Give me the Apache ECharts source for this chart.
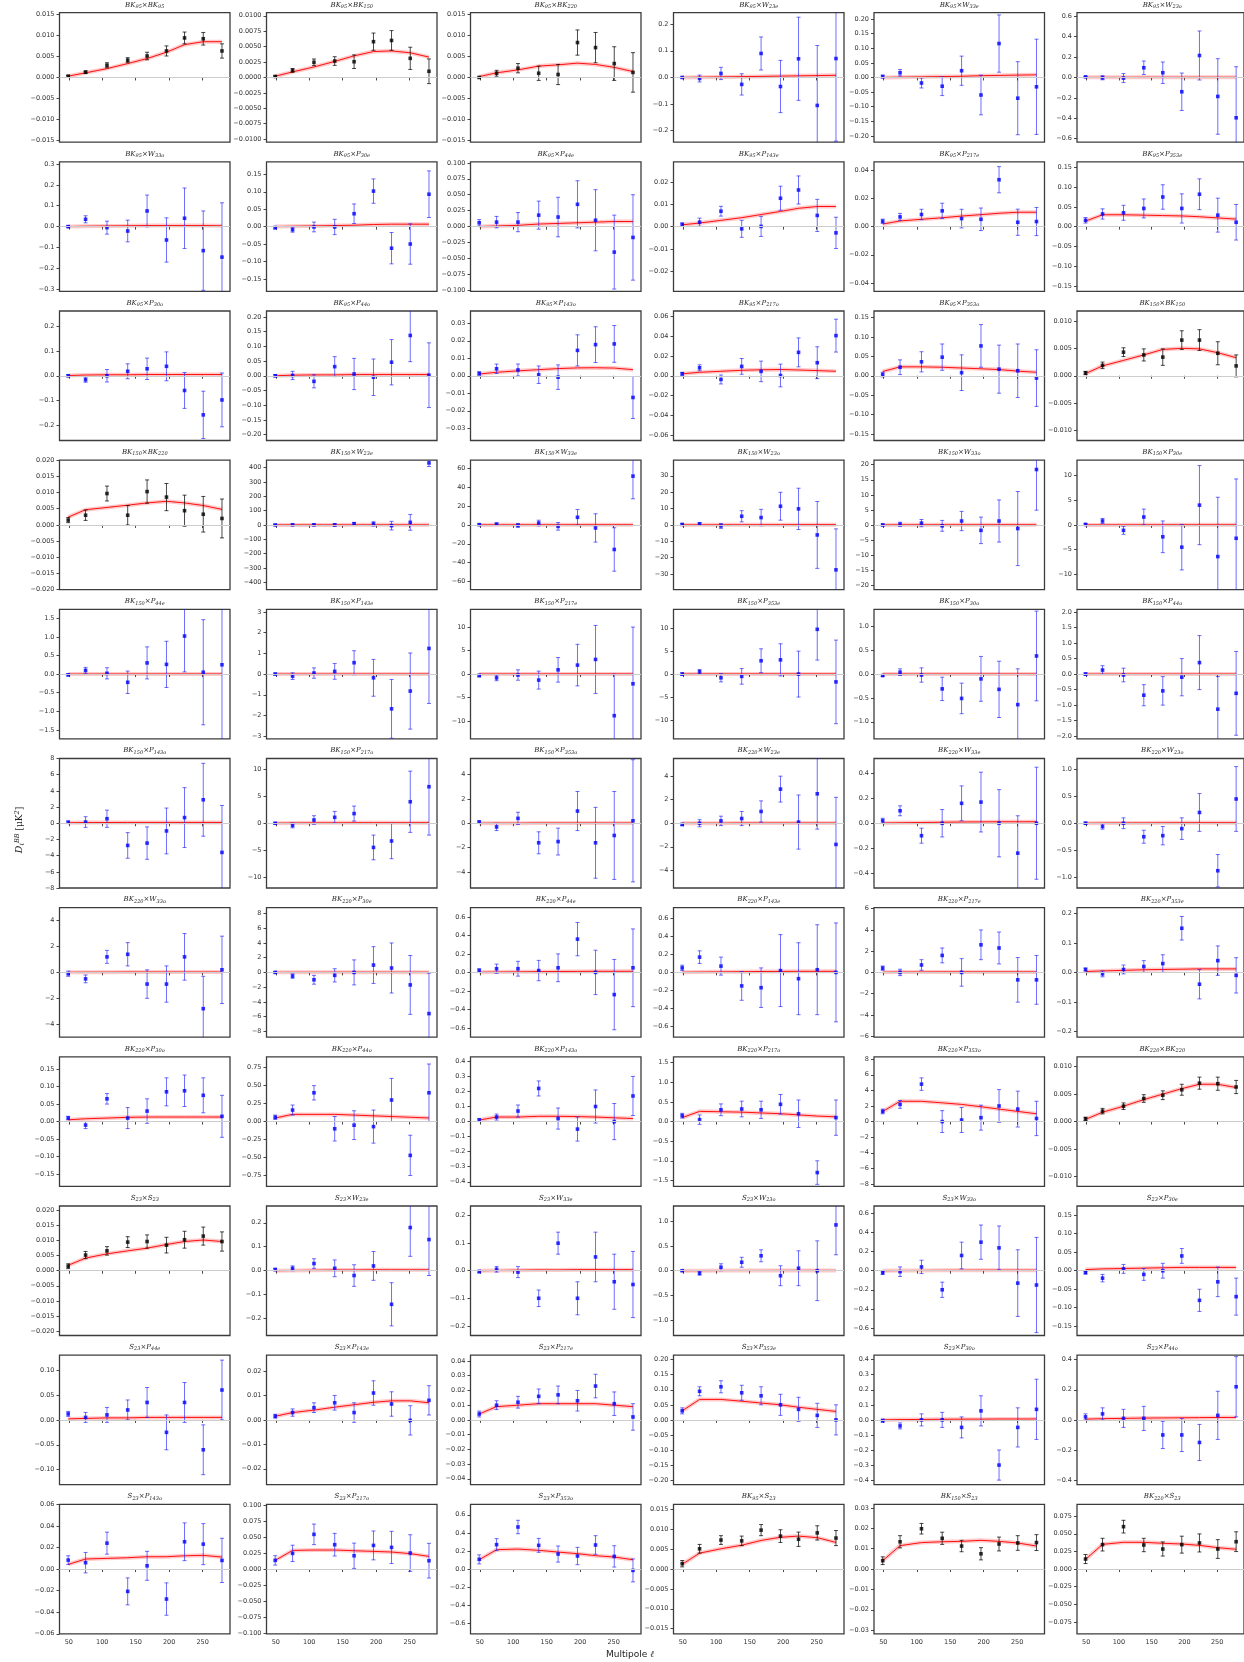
<!DOCTYPE html>
<html>
<head>
<meta charset="utf-8">
<script src="https://cdn.jsdelivr.net/npm/echarts@6/dist/echarts.min.js"></script>
<style>
  html, body { margin: 0; padding: 0; background: #ffffff; }
  #chart { width: 1244px; height: 1662px; }
</style>
</head>
<body>
<div id="chart"></div>
<script>
// Multipole bin centres and axis ticks shared by every panel
const ells = [49, 75, 107, 138, 167, 196, 223, 251, 279];
const ellTicks = [50, 100, 150, 200, 250];
const ellRange = [36, 291];

// Map names used in the panel titles
const bkMaps = ['BK_{95}', 'BK_{150}', 'BK_{220}', 'S_{23}'];
const extMaps = ['W_{23e}', 'W_{33e}', 'W_{23o}', 'W_{33o}', 'P_{30e}', 'P_{44e}', 'P_{143e}',
                 'P_{217e}', 'P_{353e}', 'P_{30o}', 'P_{44o}', 'P_{143o}', 'P_{217o}', 'P_{353o}'];

// Panels drawn in black (BK-type x BK-type spectra)
const bkAutoPanels = [0, 1, 2, 17, 18, 47, 48, 63, 64, 65];

// Symmetric y half-range and tick step of each panel (row-major)
const yHalfRange = [
  0.0154, 0.0105, 0.0154, 0.243, 0.2216, 0.634,
  0.31, 0.186, 0.1016, 0.029, 0.046, 0.164,
  0.26, 0.22, 0.037, 0.065, 0.167, 0.0118,
  0.02, 451, 68.6, 39.5, 21.5, 13.1,
  1.737, 3.13, 13.7, 14.1, 1.357, 2.086,
  8.0, 12.05, 5.3, 5.5, 0.52, 1.2,
  5.0, 8.8, 0.7, 0.72, 6.1, 0.22,
  0.185, 0.9, 0.43, 1.65, 8.3, 0.0118,
  0.0215, 0.27, 0.235, 1.3, 0.68, 0.175,
  0.13, 0.0265, 0.044, 0.215, 0.43, 0.43,
  0.06, 0.1008, 0.716, 0.0163, 0.0318, 0.0918
];
const yTickStep = [
  0.005, 0.0025, 0.005, 0.1, 0.05, 0.2,
  0.1, 0.05, 0.025, 0.01, 0.02, 0.05,
  0.1, 0.05, 0.01, 0.02, 0.05, 0.005,
  0.005, 100, 20, 10, 5, 5,
  0.5, 1, 5, 5, 0.5, 0.5,
  2, 5, 2, 2, 0.2, 0.5,
  2, 2, 0.2, 0.2, 2, 0.1,
  0.05, 0.25, 0.1, 0.5, 2, 0.005,
  0.005, 0.1, 0.1, 0.5, 0.2, 0.05,
  0.05, 0.01, 0.01, 0.05, 0.1, 0.2,
  0.02, 0.025, 0.2, 0.005, 0.01, 0.025
];

// Measured band powers D_l^BB [uK^2], one row of nine bins per panel
const bandpowers = [
  [0.0003, 0.00126, 0.0029, 0.0041, 0.0051, 0.0063, 0.0094, 0.0092, 0.0063],
  [0.00016, 0.00114, 0.00245, 0.00266, 0.00255, 0.0058, 0.006, 0.0031, 0.001],
  [0.0000, 0.001, 0.0022, 0.001, 0.0007, 0.0083, 0.0071, 0.0033, 0.0012],
  [0.0, -0.004, 0.015, -0.026, 0.09, -0.034, 0.07, -0.105, 0.071],
  [0.003, 0.016, -0.019, -0.03, 0.023, -0.06, 0.116, -0.071, -0.032],
  [0.006, -0.003, -0.006, 0.095, 0.046, -0.14, 0.215, -0.186, -0.395],
  [0.0, 0.035, -0.005, -0.021, 0.075, -0.064, 0.04, -0.115, -0.146],
  [-0.003, -0.009, -0.001, -0.001, 0.037, 0.102, -0.062, -0.05, 0.093],
  [0.006, 0.007, 0.007, 0.018, 0.015, 0.035, 0.01, -0.04, -0.017],
  [0.0009, 0.002, 0.0069, -0.001, 0.0001, 0.0127, 0.0164, 0.005, -0.0028],
  [0.0038, 0.0069, 0.0086, 0.0112, 0.0057, 0.0052, 0.0333, 0.0031, 0.0036],
  [0.016, 0.032, 0.035, 0.046, 0.075, 0.046, 0.082, 0.029, 0.011],
  [0.0, -0.016, 0.0, 0.018, 0.028, 0.038, -0.059, -0.157, -0.097],
  [0.0, 0.001, -0.019, 0.031, 0.006, -0.005, 0.046, 0.137, 0.002],
  [0.0013, 0.004, 0.0033, 0.0006, -0.0008, 0.0145, 0.0178, 0.0182, -0.0124],
  [0.002, 0.008, -0.0037, 0.0094, 0.0044, 0.0003, 0.0235, 0.0131, 0.0403],
  [0.003, 0.022, 0.036, 0.048, 0.008, 0.077, 0.017, 0.013, -0.006],
  [0.0005, 0.0019, 0.0043, 0.0038, 0.0034, 0.0065, 0.0065, 0.0041, 0.0018],
  [0.0015, 0.003, 0.0097, 0.003, 0.0103, 0.0086, 0.0044, 0.0033, 0.002],
  [0, 1, 1, 0, 8, 7, -5, 18, 432],
  [0.3, 0.8, -0.5, 2, -1.5, 8.1, -3.2, -26, 51.7],
  [0.3, 0.6, -0.6, 5.3, 4.5, 11.4, 9.8, -6.1, -27.4],
  [0.0, 0.2, 0.6, -0.3, 1.3, -1.8, 1.3, -1.2, 18.4],
  [0.1, 0.8, -1.1, 1.6, -2.4, -4.5, 4.0, -6.4, -2.7],
  [-0.02, 0.1, 0.02, -0.22, 0.3, 0.26, 1.02, 0.05, 0.25],
  [0.0, -0.1, 0.05, 0.13, 0.55, -0.18, -1.68, -0.82, 1.24],
  [-0.3, -0.8, -0.2, -1.27, 0.9, 1.9, 3.1, -8.8, -2.05],
  [0.0, 0.5, -0.8, -0.5, 2.9, 3.1, 0.0, 9.75, -1.7],
  [-0.03, 0.04, -0.02, -0.31, -0.51, -0.1, -0.32, -0.64, 0.38],
  [0.0, 0.13, -0.03, -0.68, -0.54, -0.1, 0.37, -1.13, -0.62],
  [0.12, 0.15, 0.56, -2.74, -2.45, -0.95, 0.7, 2.9, -3.6],
  [0.0, -0.4, 0.6, 1.1, 1.8, -4.5, -3.3, 4.0, 6.8],
  [0.1, -0.3, 0.4, -1.6, -1.5, 1.0, -1.6, -1.0, 0.2],
  [-0.1, 0.0, 0.2, 0.4, 1.0, 2.9, 0.1, 2.5, -1.8],
  [0.02, 0.1, -0.1, 0.0, 0.16, 0.17, 0.0, -0.24, 0.0],
  [0.0, -0.06, 0.0, -0.25, -0.23, -0.1, 0.2, -0.88, 0.45],
  [-0.1, -0.5, 1.2, 1.4, -0.9, -0.9, 1.2, -2.8, 0.2],
  [0.0, -0.5, -1.0, -0.4, 0.0, 1.0, 0.6, -1.7, -5.6],
  [0.02, 0.04, 0.04, 0.02, 0.05, 0.36, 0.0, -0.24, 0.05],
  [0.05, 0.17, 0.07, -0.15, -0.17, 0.02, -0.07, 0.03, 0.0],
  [0.4, 0.0, 0.7, 1.6, 0.0, 2.6, 2.3, -0.7, -0.7],
  [0.01, -0.005, 0.01, 0.02, 0.03, 0.15, -0.04, 0.04, -0.01],
  [0.01, -0.01, 0.065, 0.01, 0.03, 0.085, 0.088, 0.075, 0.015],
  [0.06, 0.16, 0.4, -0.1, -0.05, -0.07, 0.3, -0.47, 0.4],
  [0.01, 0.03, 0.07, 0.22, 0.02, -0.05, 0.1, 0.0, 0.17],
  [0.15, 0.05, 0.3, 0.32, 0.3, 0.44, 0.2, -1.3, 0.1],
  [1.3, 2.2, 4.8, 0.0, 0.2, 0.5, 2.0, 1.6, 0.4],
  [0.0005, 0.0019, 0.0028, 0.0042, 0.0048, 0.0058, 0.007, 0.0069, 0.0063],
  [0.0015, 0.0052, 0.0066, 0.0095, 0.0097, 0.0085, 0.0103, 0.0115, 0.0097],
  [0.005, 0.01, 0.03, 0.01, -0.02, 0.02, -0.14, 0.18, 0.13],
  [-0.003, 0.005, -0.005, -0.1, 0.1, -0.1, 0.05, -0.04, -0.05],
  [0.0, -0.05, 0.07, 0.17, 0.3, -0.1, 0.05, 0.0, 0.92],
  [-0.02, -0.01, 0.04, -0.2, 0.16, 0.3, 0.24, -0.13, -0.15],
  [-0.005, -0.02, 0.005, -0.01, 0.0, 0.04, -0.08, -0.03, -0.07],
  [0.012, 0.005, 0.01, 0.02, 0.035, -0.025, 0.035, -0.06, 0.06],
  [0.0015, 0.003, 0.005, 0.007, 0.003, 0.011, 0.0065, -0.0002, 0.008],
  [0.004, 0.01, 0.012, 0.016, 0.017, 0.013, 0.023, 0.011, 0.002],
  [0.03, 0.095, 0.11, 0.09, 0.08, 0.05, 0.035, 0.015, 0.0],
  [-0.005, -0.04, 0.0, 0.0, -0.05, 0.06, -0.3, -0.05, 0.07],
  [0.02, 0.04, 0.01, 0.01, -0.1, -0.1, -0.15, 0.03, 0.22],
  [0.0083, 0.0059, 0.024, -0.0207, 0.003, -0.0278, 0.0253, 0.0231, 0.008],
  [0.0135, 0.0244, 0.054, 0.0379, 0.0207, 0.0368, 0.0337, 0.0249, 0.013],
  [0.107, 0.27, 0.465, 0.262, 0.166, 0.144, 0.266, 0.14, -0.015],
  [0.00135, 0.0051, 0.0073, 0.0071, 0.0098, 0.0083, 0.0075, 0.0091, 0.0078],
  [0.0041, 0.0134, 0.0198, 0.0151, 0.0113, 0.0075, 0.0123, 0.0128, 0.013],
  [0.0142, 0.0346, 0.0601, 0.0341, 0.0284, 0.0346, 0.037, 0.0284, 0.0388]
];

// 1-sigma uncertainties of the band powers
const bandErrors = [
  [0.0002, 0.0003, 0.0006, 0.0006, 0.0009, 0.0012, 0.0014, 0.0015, 0.0017],
  [0.0001, 0.0003, 0.00054, 0.0007, 0.0011, 0.0014, 0.0016, 0.0018, 0.002],
  [0.0001, 0.0007, 0.0011, 0.0017, 0.0024, 0.003, 0.0036, 0.004, 0.0047],
  [0.002, 0.013, 0.023, 0.04, 0.062, 0.098, 0.156, 0.225, 0.31],
  [0.005, 0.011, 0.017, 0.032, 0.05, 0.068, 0.098, 0.125, 0.163],
  [0.003, 0.02, 0.044, 0.066, 0.105, 0.183, 0.24, 0.37, 0.5],
  [0.005, 0.017, 0.031, 0.052, 0.076, 0.106, 0.145, 0.19, 0.26],
  [0.004, 0.007, 0.014, 0.022, 0.028, 0.035, 0.045, 0.058, 0.067],
  [0.005, 0.009, 0.015, 0.022, 0.031, 0.037, 0.048, 0.058, 0.067],
  [0.0008, 0.0018, 0.0022, 0.0038, 0.0045, 0.0054, 0.0063, 0.0072, 0.007],
  [0.0015, 0.0025, 0.0037, 0.0054, 0.0066, 0.008, 0.0093, 0.0093, 0.01],
  [0.007, 0.013, 0.019, 0.024, 0.031, 0.037, 0.039, 0.043, 0.045],
  [0.004, 0.01, 0.025, 0.03, 0.043, 0.058, 0.072, 0.095, 0.108],
  [0.004, 0.014, 0.022, 0.034, 0.053, 0.062, 0.077, 0.089, 0.11],
  [0.001, 0.0027, 0.0034, 0.005, 0.007, 0.0089, 0.0102, 0.0105, 0.012],
  [0.0015, 0.003, 0.0045, 0.0079, 0.0103, 0.0114, 0.0145, 0.016, 0.0165],
  [0.006, 0.019, 0.026, 0.034, 0.046, 0.055, 0.062, 0.069, 0.073],
  [0.0003, 0.0006, 0.0008, 0.0011, 0.0015, 0.0017, 0.0019, 0.0021, 0.002],
  [0.0008, 0.0016, 0.0023, 0.003, 0.0036, 0.0042, 0.0048, 0.0055, 0.006],
  [2, 5, 6, 8, 10, 15, 30, 55, 25],
  [0.8, 1.2, 2, 3, 4, 8.3, 15, 23, 24],
  [0.5, 0.8, 1.5, 3.4, 5, 8.5, 12.6, 20.4, 25],
  [0.3, 0.7, 1.2, 1.8, 3.2, 4.4, 7, 12.3, 13.5],
  [0.2, 0.5, 0.8, 1.6, 3.2, 4.6, 8, 12, 12],
  [0.03, 0.08, 0.15, 0.3, 0.43, 0.62, 0.96, 1.41, 2.0],
  [0.05, 0.16, 0.25, 0.38, 0.58, 0.89, 1.42, 1.84, 2.66],
  [0.3, 0.6, 1.1, 1.9, 2.6, 4.4, 7.2, 8.8, 12],
  [0.3, 0.5, 0.9, 1.7, 2.6, 3.5, 5, 6.7, 9.1],
  [0.02, 0.07, 0.15, 0.245, 0.32, 0.47, 0.59, 0.75, 0.94],
  [0.04, 0.14, 0.22, 0.34, 0.46, 0.6, 0.87, 1.05, 1.35],
  [0.15, 0.66, 1.06, 1.58, 2.0, 2.83, 3.7, 4.5, 5.8],
  [0.15, 0.45, 0.8, 1.1, 1.4, 2.3, 3.3, 5.7, 9.0],
  [0.1, 0.3, 0.5, 0.9, 1.1, 1.6, 2.9, 3.6, 5.0],
  [0.1, 0.3, 0.4, 0.6, 0.9, 1.1, 2.3, 3.0, 4.0],
  [0.02, 0.04, 0.06, 0.11, 0.14, 0.24, 0.27, 0.3, 0.45],
  [0.02, 0.05, 0.1, 0.12, 0.17, 0.2, 0.35, 0.3, 0.6],
  [0.2, 0.3, 0.5, 0.9, 1.1, 1.4, 1.8, 2.5, 2.6],
  [0.1, 0.3, 0.6, 0.9, 1.7, 2.5, 3.4, 4.0, 5.5],
  [0.02, 0.05, 0.08, 0.11, 0.15, 0.18, 0.24, 0.38, 0.42],
  [0.03, 0.07, 0.1, 0.16, 0.22, 0.4, 0.4, 0.5, 0.55],
  [0.2, 0.3, 0.5, 0.7, 1.3, 1.4, 1.5, 2.1, 2.3],
  [0.005, 0.01, 0.015, 0.02, 0.03, 0.04, 0.05, 0.05, 0.06],
  [0.005, 0.01, 0.015, 0.03, 0.035, 0.04, 0.045, 0.05, 0.06],
  [0.03, 0.07, 0.1, 0.17, 0.2, 0.23, 0.3, 0.28, 0.4],
  [0.01, 0.02, 0.04, 0.05, 0.07, 0.08, 0.11, 0.12, 0.13],
  [0.06, 0.12, 0.15, 0.2, 0.22, 0.25, 0.35, 0.3, 0.45],
  [0.3, 0.5, 0.8, 1.4, 1.6, 1.6, 2.1, 2.3, 2.2],
  [0.0003, 0.0005, 0.0006, 0.0007, 0.0008, 0.001, 0.0011, 0.0012, 0.0012],
  [0.0008, 0.0012, 0.0014, 0.0018, 0.0022, 0.0026, 0.0028, 0.003, 0.0032],
  [0.005, 0.01, 0.02, 0.035, 0.045, 0.06, 0.09, 0.12, 0.15],
  [0.005, 0.01, 0.02, 0.03, 0.04, 0.06, 0.09, 0.1, 0.12],
  [0.01, 0.04, 0.07, 0.1, 0.12, 0.2, 0.35, 0.6, 0.6],
  [0.02, 0.05, 0.07, 0.08, 0.14, 0.18, 0.23, 0.35, 0.5],
  [0.004, 0.01, 0.012, 0.016, 0.02, 0.02, 0.03, 0.04, 0.05],
  [0.005, 0.01, 0.015, 0.02, 0.03, 0.035, 0.04, 0.05, 0.06],
  [0.0008, 0.0015, 0.002, 0.003, 0.004, 0.005, 0.005, 0.006, 0.006],
  [0.002, 0.003, 0.004, 0.005, 0.006, 0.007, 0.008, 0.008, 0.009],
  [0.01, 0.015, 0.02, 0.025, 0.03, 0.035, 0.04, 0.04, 0.05],
  [0.01, 0.02, 0.04, 0.05, 0.07, 0.1, 0.1, 0.13, 0.2],
  [0.02, 0.04, 0.06, 0.08, 0.09, 0.11, 0.12, 0.16, 0.2],
  [0.004, 0.0095, 0.0102, 0.0125, 0.0134, 0.015, 0.0175, 0.019, 0.0205],
  [0.0073, 0.0127, 0.016, 0.0176, 0.0197, 0.0225, 0.025, 0.0285, 0.027],
  [0.05, 0.066, 0.074, 0.077, 0.089, 0.096, 0.103, 0.118, 0.127],
  [0.0008, 0.0011, 0.0011, 0.0012, 0.0014, 0.0016, 0.0018, 0.0018, 0.0019],
  [0.0019, 0.003, 0.0026, 0.003, 0.0028, 0.003, 0.0034, 0.0036, 0.0039],
  [0.0064, 0.009, 0.009, 0.0095, 0.01, 0.012, 0.0128, 0.0133, 0.014]
];

// Best-fit model expectation in each bin
const modelCurve = [
  [0.0003, 0.0011, 0.0021, 0.0033, 0.0045, 0.006, 0.0078, 0.0085, 0.0085],
  [0.0002, 0.0009, 0.0017, 0.0026, 0.0035, 0.0042, 0.0043, 0.004, 0.0033],
  [0.0002, 0.0011, 0.0018, 0.0027, 0.003, 0.0034, 0.0031, 0.0024, 0.0014],
  [0.0, 0.001, 0.002, 0.003, 0.004, 0.005, 0.006, 0.007, 0.008],
  [0.0, 0.001, 0.002, 0.003, 0.004, 0.006, 0.007, 0.008, 0.009],
  [0.001, 0.001, 0.001, 0.002, 0.002, 0.002, 0.002, 0.002, 0.002],
  [0.0, 0.002, 0.003, 0.004, 0.005, 0.005, 0.005, 0.005, 0.004],
  [0.0, 0.001, 0.002, 0.003, 0.004, 0.006, 0.007, 0.007, 0.007],
  [0.0, 0.001, 0.002, 0.004, 0.005, 0.006, 0.007, 0.008, 0.008],
  [0.0008, 0.0016, 0.0028, 0.004, 0.0054, 0.0068, 0.0082, 0.009, 0.009],
  [0.0018, 0.004, 0.0052, 0.0063, 0.0075, 0.0085, 0.0095, 0.0102, 0.0102],
  [0.014, 0.03, 0.03, 0.029, 0.028, 0.027, 0.025, 0.022, 0.019],
  [0.001, 0.003, 0.004, 0.004, 0.005, 0.005, 0.005, 0.005, 0.005],
  [0.0, 0.002, 0.003, 0.003, 0.004, 0.004, 0.004, 0.004, 0.004],
  [0.001, 0.002, 0.0028, 0.0035, 0.0041, 0.0045, 0.0046, 0.0044, 0.0035],
  [0.002, 0.0035, 0.0045, 0.0055, 0.006, 0.0063, 0.0058, 0.0052, 0.0045],
  [0.011, 0.023, 0.023, 0.022, 0.02, 0.018, 0.016, 0.012, 0.009],
  [0.0004, 0.0018, 0.0028, 0.0038, 0.0048, 0.005, 0.0049, 0.0042, 0.0033],
  [0.0024, 0.0047, 0.0054, 0.0061, 0.0068, 0.0073, 0.0068, 0.006, 0.0048],
  [0.1, 0.2, 0.3, 0.3, 0.4, 0.4, 0.5, 0.5, 0.5],
  [0.05, 0.1, 0.1, 0.15, 0.15, 0.2, 0.2, 0.2, 0.2],
  [0.02, 0.05, 0.08, 0.1, 0.12, 0.14, 0.15, 0.16, 0.16],
  [0.01, 0.02, 0.03, 0.04, 0.05, 0.05, 0.06, 0.06, 0.06],
  [0.01, 0.01, 0.02, 0.02, 0.03, 0.03, 0.03, 0.03, 0.03],
  [0.0, 0.001, 0.002, 0.003, 0.003, 0.004, 0.004, 0.004, 0.004],
  [0.0, 0.001, 0.002, 0.003, 0.004, 0.005, 0.005, 0.006, 0.006],
  [0.01, 0.02, 0.03, 0.03, 0.04, 0.04, 0.04, 0.04, 0.04],
  [0.01, 0.02, 0.03, 0.03, 0.04, 0.04, 0.04, 0.04, 0.04],
  [0.0, 0.001, 0.001, 0.002, 0.002, 0.002, 0.002, 0.002, 0.002],
  [0.0, 0.001, 0.001, 0.002, 0.002, 0.002, 0.002, 0.002, 0.002],
  [0.06, 0.08, 0.09, 0.1, 0.1, 0.1, 0.1, 0.1, 0.1],
  [0.02, 0.05, 0.07, 0.08, 0.1, 0.1, 0.1, 0.1, 0.1],
  [0.0, 0.01, 0.01, 0.02, 0.02, 0.02, 0.02, 0.02, 0.02],
  [0.0, 0.01, 0.01, 0.02, 0.02, 0.02, 0.02, 0.02, 0.02],
  [0.002, 0.004, 0.006, 0.008, 0.01, 0.011, 0.012, 0.012, 0.012],
  [0.001, 0.003, 0.005, 0.006, 0.008, 0.009, 0.01, 0.01, 0.01],
  [0.01, 0.02, 0.02, 0.03, 0.03, 0.03, 0.03, 0.03, 0.03],
  [0.01, 0.02, 0.02, 0.03, 0.03, 0.03, 0.03, 0.03, 0.03],
  [0.002, 0.004, 0.006, 0.008, 0.01, 0.011, 0.012, 0.012, 0.012],
  [0.002, 0.004, 0.006, 0.008, 0.01, 0.011, 0.012, 0.012, 0.012],
  [0.02, 0.03, 0.04, 0.05, 0.05, 0.05, 0.05, 0.05, 0.05],
  [0.003, 0.005, 0.007, 0.009, 0.01, 0.011, 0.012, 0.012, 0.012],
  [0.005, 0.008, 0.01, 0.012, 0.013, 0.013, 0.013, 0.013, 0.013],
  [0.05, 0.1, 0.1, 0.1, 0.09, 0.08, 0.07, 0.06, 0.05],
  [0.01, 0.03, 0.03, 0.035, 0.035, 0.033, 0.03, 0.025, 0.02],
  [0.1, 0.26, 0.25, 0.24, 0.22, 0.2, 0.17, 0.14, 0.12],
  [1.3, 2.6, 2.6, 2.4, 2.2, 1.9, 1.6, 1.3, 1.0],
  [0.0004, 0.0017, 0.0028, 0.004, 0.005, 0.006, 0.0068, 0.0068, 0.0062],
  [0.0018, 0.0042, 0.0056, 0.0066, 0.0075, 0.0087, 0.0097, 0.0102, 0.0097],
  [0.0, 0.001, 0.002, 0.003, 0.003, 0.004, 0.004, 0.004, 0.004],
  [0.0, 0.001, 0.002, 0.003, 0.003, 0.004, 0.004, 0.004, 0.004],
  [0.0, 0.002, 0.004, 0.005, 0.006, 0.007, 0.007, 0.007, 0.007],
  [0.0, 0.002, 0.003, 0.004, 0.005, 0.006, 0.006, 0.006, 0.006],
  [0.003, 0.005, 0.006, 0.007, 0.008, 0.009, 0.009, 0.009, 0.009],
  [0.002, 0.003, 0.004, 0.004, 0.005, 0.005, 0.005, 0.005, 0.005],
  [0.0015, 0.003, 0.004, 0.0052, 0.0062, 0.0072, 0.0078, 0.0078, 0.007],
  [0.004, 0.009, 0.01, 0.011, 0.011, 0.011, 0.011, 0.01, 0.009],
  [0.03, 0.068, 0.068, 0.062, 0.056, 0.05, 0.042, 0.035, 0.028],
  [0.0, 0.002, 0.003, 0.004, 0.005, 0.005, 0.006, 0.006, 0.006],
  [0.005, 0.008, 0.01, 0.012, 0.013, 0.014, 0.015, 0.016, 0.016],
  [0.0043, 0.0093, 0.0099, 0.0105, 0.0114, 0.0114, 0.0123, 0.0127, 0.0111],
  [0.0135, 0.029, 0.0296, 0.0296, 0.0285, 0.0275, 0.0265, 0.024, 0.0197],
  [0.103, 0.214, 0.221, 0.207, 0.188, 0.17, 0.148, 0.133, 0.103],
  [0.0012, 0.004, 0.0051, 0.006, 0.0072, 0.008, 0.0083, 0.0079, 0.0067],
  [0.0041, 0.0115, 0.013, 0.0134, 0.0136, 0.0141, 0.0136, 0.0128, 0.0113],
  [0.0137, 0.035, 0.0379, 0.0379, 0.0365, 0.0355, 0.0336, 0.0303, 0.028]
];

// ---- panel titles: BK-type pairs first, then each BK-type map against the external maps
function buildTitles() {
  const t = [];
  const x = (a, b) => a + '×' + b;
  const [A, B, C, D] = bkMaps;
  t.push(x(A, A), x(A, B), x(A, C));
  extMaps.forEach(e => t.push(x(A, e)));
  t.push(x(B, B), x(B, C));
  extMaps.forEach(e => t.push(x(B, e)));
  extMaps.forEach(e => t.push(x(C, e)));
  t.push(x(C, C), x(D, D));
  extMaps.forEach(e => t.push(x(D, e)));
  t.push(x(A, D), x(B, D), x(C, D));
  return t;
}
const panelTitles = buildTitles();

// ---- layout of the 11 x 6 panel grid
const NCOL = 6, NROW = 11;
const colLeft = [59.5, 266.5, 470.5, 673.5, 874, 1077];
const panelW = 170.5, panelH = 129.5;
const rowTop0 = 12.7, rowStep = 149.16;

function decimalsOf(step) {
  const s = String(step);
  return s.indexOf('.') < 0 ? 0 : s.length - s.indexOf('.') - 1;
}
function tickValues(half, step) {
  const dec = decimalsOf(step);
  const n = Math.floor(half / step + 1e-9);
  const v = [];
  for (let k = -n; k <= n; k++) v.push(Number((k * step).toFixed(dec + 3)));
  return v;
}
// "BK_{95}×W_{23e}" -> rich-text markup with subscripts
function toRich(str) {
  return str.split(/(_\{[^}]*\})/).filter(p => p.length).map(p => {
    const m = p.match(/^_\{([^}]*)\}$/);
    return m ? '{s|' + m[1] + '}' : '{n|' + p + '}';
  }).join('');
}

const grids = [], xAxes = [], yAxes = [], series = [], graphics = [];
const titleRich = {
  n: { fontSize: 7, fontFamily: 'DejaVu Serif', fontStyle: 'italic', fill: '#222', lineHeight: 9, verticalAlign: 'middle' },
  s: { fontSize: 5, fontFamily: 'DejaVu Serif', fontStyle: 'italic', fill: '#222', lineHeight: 5, verticalAlign: 'bottom' }
};

function errorBarRenderer(color) {
  return function (params, api) {
    const x = api.value(0);
    const top = api.coord([x, api.value(2)]);
    const bot = api.coord([x, api.value(1)]);
    const cap = 2;
    const style = { stroke: color, lineWidth: 1 };
    return {
      type: 'group',
      children: [
        { type: 'line', shape: { x1: top[0], y1: top[1], x2: bot[0], y2: bot[1] }, style },
        { type: 'line', shape: { x1: top[0] - cap, y1: top[1], x2: top[0] + cap, y2: top[1] }, style },
        { type: 'line', shape: { x1: bot[0] - cap, y1: bot[1], x2: bot[0] + cap, y2: bot[1] }, style }
      ]
    };
  };
}

for (let i = 0; i < NROW * NCOL; i++) {
  const r = Math.floor(i / NCOL), c = i % NCOL;
  const left = colLeft[c], top = rowTop0 + r * rowStep;
  const isBK = bkAutoPanels.indexOf(i) >= 0;
  const ptColor = isBK ? '#000000' : '#0000ff';
  const barColor = isBK ? 'rgba(0,0,0,0.72)' : 'rgba(20,20,255,0.62)';
  const half = yHalfRange[i], step = yTickStep[i];
  const dec = decimalsOf(step);
  const yt = tickValues(half, step);

  grids.push({
    left: left, top: top, width: panelW, height: panelH,
    show: true, borderColor: '#3c3c3c', borderWidth: 1.3, backgroundColor: 'transparent',
    containLabel: false
  });
  xAxes.push({
    type: 'value', gridIndex: i, min: ellRange[0], max: ellRange[1],
    axisLine: { show: false },
    axisTick: { show: true, inside: false, length: 3, customValues: ellTicks, lineStyle: { color: '#333', width: 0.9 } },
    axisLabel: {
      show: r === NROW - 1, customValues: ellTicks, margin: 5,
      fontSize: 6.5, fontFamily: 'DejaVu Sans', color: '#333'
    },
    splitLine: { show: false }
  });
  yAxes.push({
    type: 'value', gridIndex: i, min: -half, max: half,
    axisLine: { show: false },
    axisTick: { show: true, inside: false, length: 3, customValues: yt, lineStyle: { color: '#333', width: 0.9 } },
    axisLabel: {
      show: true, customValues: yt, margin: 5,
      fontSize: 6.5, fontFamily: 'DejaVu Sans', color: '#333',
      formatter: v => Number(v).toFixed(dec).replace('-', '\u2212')
    },
    splitLine: { show: false }
  });

  const modelData = ells.map((l, k) => [l, modelCurve[i][k]]);
  // soft band under the model curve, also carries the zero reference line
  series.push({
    type: 'line', xAxisIndex: i, yAxisIndex: i, data: modelData,
    symbol: 'none', silent: true, z: 1,
    lineStyle: { color: 'rgba(255,40,40,0.25)', width: 4 },
    markLine: {
      silent: true, symbol: 'none', label: { show: false }, animation: false,
      lineStyle: { color: '#cdcdcd', width: 1, type: 'solid' },
      data: [{ yAxis: 0 }]
    }
  });
  series.push({
    type: 'line', xAxisIndex: i, yAxisIndex: i, data: modelData,
    symbol: 'none', silent: true, z: 2,
    lineStyle: { color: '#ff1010', width: 1 }
  });
  series.push({
    type: 'custom', xAxisIndex: i, yAxisIndex: i, clip: true, silent: true, z: 3,
    renderItem: errorBarRenderer(barColor),
    data: ells.map((l, k) => [l, bandpowers[i][k] - bandErrors[i][k], bandpowers[i][k] + bandErrors[i][k]])
  });
  series.push({
    type: 'scatter', xAxisIndex: i, yAxisIndex: i, silent: true, z: 4,
    symbol: 'rect', symbolSize: 3.6, itemStyle: { color: ptColor },
    data: ells.map((l, k) => [l, bandpowers[i][k]])
  });

  graphics.push({
    type: 'text', x: left + panelW / 2, y: top - 8, silent: true,
    style: { text: toRich(panelTitles[i]), rich: titleRich, align: 'center', verticalAlign: 'middle' }
  });
}

// shared axis labels
graphics.push({
  type: 'text', x: 20, y: 830, rotation: Math.PI / 2, silent: true,
  style: {
    text: '{d|D}{sb|\u2113}{sp|BB}{n| [\u03bcK}{sp|2}{n|]}',
    align: 'center', verticalAlign: 'middle',
    rich: {
      d: { fontSize: 9.5, fontFamily: 'DejaVu Serif', fontStyle: 'italic', fill: '#222', lineHeight: 12, verticalAlign: 'middle' },
      sb: { fontSize: 6.5, fontFamily: 'DejaVu Serif', fontStyle: 'italic', fill: '#222', lineHeight: 7, verticalAlign: 'bottom' },
      sp: { fontSize: 6.5, fontFamily: 'DejaVu Serif', fontStyle: 'italic', fill: '#222', lineHeight: 7, verticalAlign: 'top' },
      n: { fontSize: 9, fontFamily: 'DejaVu Serif', fill: '#222', lineHeight: 12, verticalAlign: 'middle' }
    }
  }
});
graphics.push({
  type: 'text', x: 630, y: 1655, silent: true,
  style: {
    text: '{n|Multipole }{l|\u2113}', align: 'center', verticalAlign: 'middle',
    rich: {
      n: { fontSize: 9, fontFamily: 'DejaVu Sans', fill: '#222' },
      l: { fontSize: 9, fontFamily: 'DejaVu Serif', fontStyle: 'italic', fill: '#222' }
    }
  }
});

const chart = echarts.init(document.getElementById('chart'), null, { renderer: 'canvas' });
chart.setOption({
  animation: false,
  backgroundColor: '#ffffff',
  grid: grids,
  xAxis: xAxes,
  yAxis: yAxes,
  series: series,
  graphic: graphics
});
</script>
</body>
</html>
